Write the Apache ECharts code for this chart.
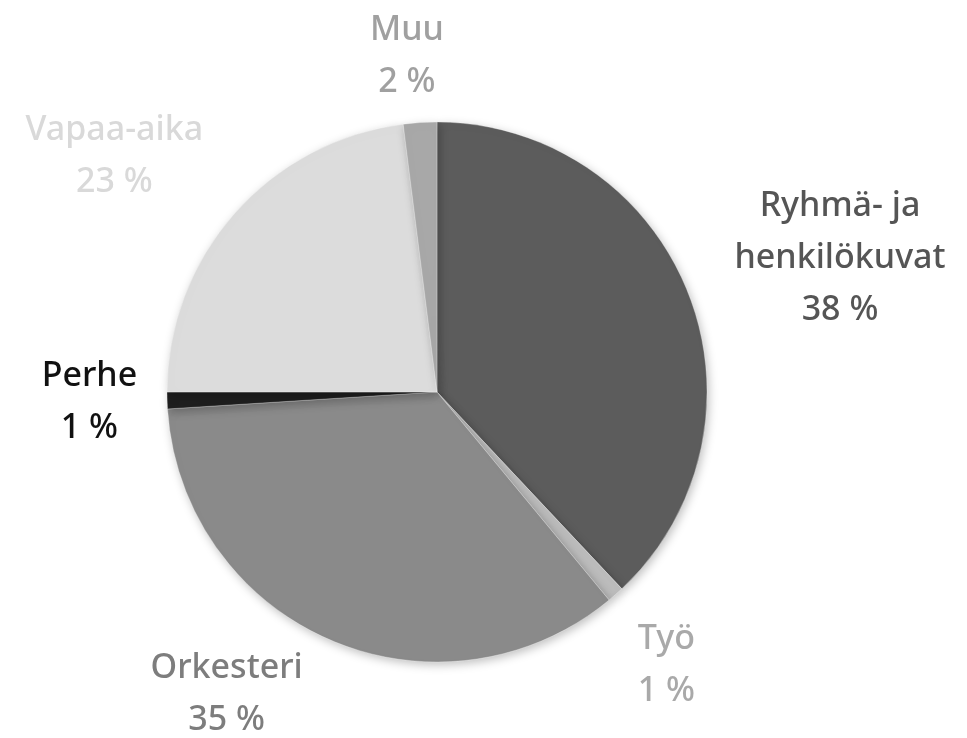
<!DOCTYPE html>
<html>
<head>
<meta charset="utf-8">
<script src="https://cdn.jsdelivr.net/npm/echarts@6/dist/echarts.min.js"></script>
<style>
  html, body { margin: 0; padding: 0; background: #fff; }
  #chart { width: 967px; height: 738px; }
</style>
</head>
<body>
<div id="chart"></div>
<script>
// categories, clockwise from 12 o'clock
const categories = ["Ryhmä- ja\nhenkilökuvat", "Työ", "Orkesteri", "Perhe", "Vapaa-aika", "Muu"];
const shares = [38, 1, 35, 1, 23, 2];

const sliceColors = ["#5c5c5c", "#bcbcbc", "#8a8a8a", "#1f1f1f", "#dcdcdc", "#a8a8a8"];
const textColors = ["#555555", "#a9a9a9", "#7d7d7d", "#111111", "#d9d9d9", "#a0a0a0"];
// small hand nudges for the labels (px)
const labelNudge = [[26, 5], [12, 9], [-61, -21], [0, -1], [-31, -3], [-9, 16]];

const cx = 437, cy = 392, r = 270, gap = 30;

const total = shares.reduce((a, b) => a + b, 0);
const midAngles = [];
let acc = 0;
shares.forEach((v) => {
    midAngles.push(((acc + v / 2) / total) * Math.PI * 2);
    acc += v;
});

const chart = echarts.init(document.getElementById("chart"));

chart.setOption({
    animation: false,
    series: [
        {
            type: "pie",
            center: [cx, cy],
            radius: [0, r],
            startAngle: 90,
            clockwise: true,
            avoidLabelOverlap: false,
            itemStyle: {
                borderColor: "rgba(255,255,255,0.6)",
                borderWidth: 0.5,
                shadowBlur: 10,
                shadowOffsetX: 2,
                shadowOffsetY: 3,
                shadowColor: "rgba(0,0,0,0.25)",
            },
            label: {
                show: true,
                position: "outside",
                fontFamily: "Noto Sans",
                fontWeight: 500,
                fontSize: 34,
                lineHeight: 52,
                formatter: (p) => `${p.name}\n${p.value} %`,
            },
            labelLine: { show: false },
            labelLayout: (p) => {
                const i = p.dataIndex;
                const a = midAngles[i];
                const dx = Math.sin(a), dy = -Math.cos(a);
                const w = p.labelRect.width, h = p.labelRect.height;
                return {
                    x: cx + dx * (r + gap) + dx * w / 2 + labelNudge[i][0],
                    y: cy + dy * (r + gap) + dy * h / 2 + labelNudge[i][1],
                    align: "center",
                    verticalAlign: "middle",
                };
            },
            data: categories.map((name, i) => ({
                name,
                value: shares[i],
                itemStyle: { color: sliceColors[i] },
                label: { color: textColors[i] },
            })),
        },
    ],
});
</script>
</body>
</html>
